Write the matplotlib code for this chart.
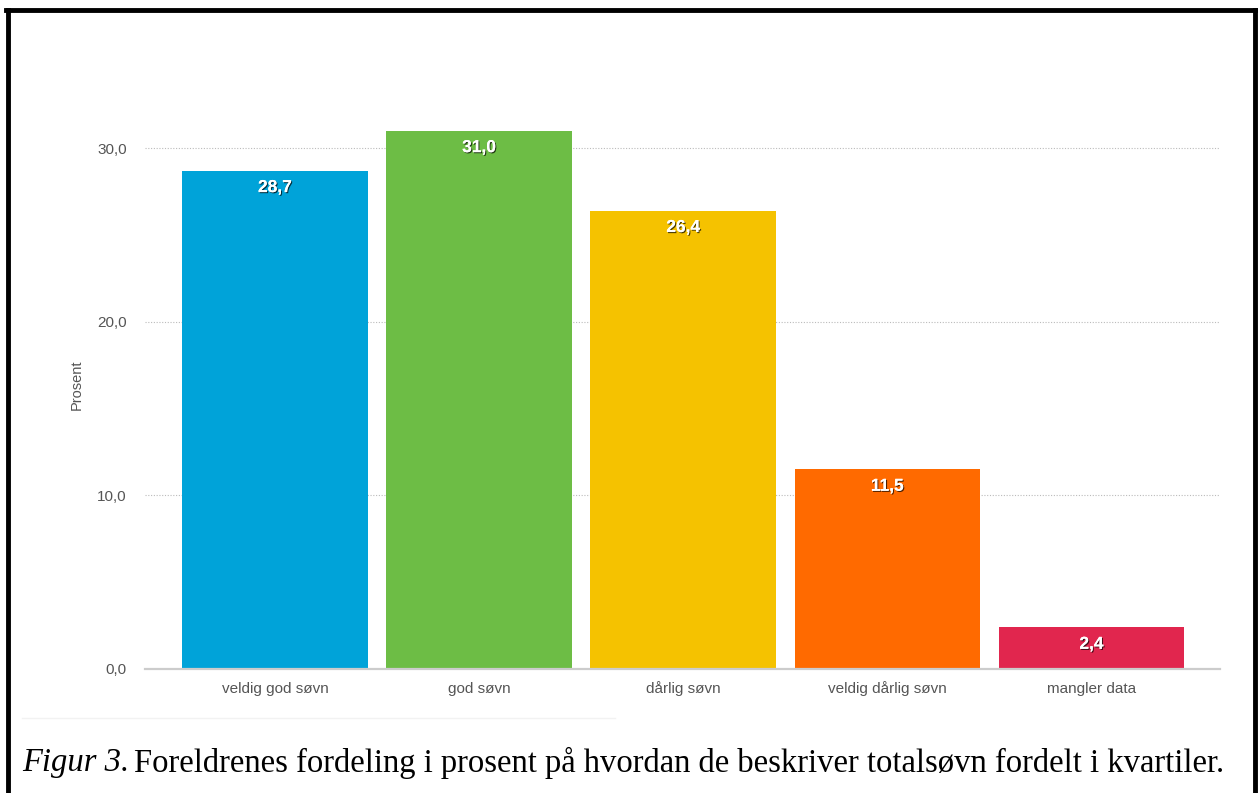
import numpy as np
import matplotlib
matplotlib.use("Agg")
import matplotlib.pyplot as plt
import matplotlib.patheffects as pe
from matplotlib.lines import Line2D

# Data
categories = ["veldig god søvn", "god søvn", "dårlig søvn", "veldig dårlig søvn", "mangler data"]
values = [28.7, 31.0, 26.4, 11.5, 2.4]
colours = ["#00A3D9", "#6DBD45", "#F5C200", "#FF6A00", "#E1264E"]
yticks = [0, 10, 20, 30]

W, H = 1258, 793
fig = plt.figure(figsize=(W / 100, H / 100), dpi=100)
plt.rcParams['font.family'] = ['Liberation Sans', 'DejaVu Sans']

# axes in pixel coords: x 145..1220, y(0)=669, y(30)=148
left, right = 145, 1220
y0, y30 = 669, 148
ppu = (y0 - y30) / 30.0
top_px = 100
ax = fig.add_axes([left / W, 1 - y0 / H, (right - left) / W, (y0 - top_px) / H])
ax.set_ylim(0, (y0 - top_px) / ppu)

x = np.arange(len(categories))
step = 204.2
ax.set_xlim(-(275 - left) / step, 4 + (right - 1091.5) / step)
bars = ax.bar(x, values, width=0.91, color=colours, zorder=3)

shadow = [pe.withSimplePatchShadow(offset=(0.8, -0.8), shadow_rgbFace='black', alpha=0.7),
          pe.Normal()]
for xi, v in zip(x, values):
    ax.annotate(f"{v:.1f}".replace(".", ","), (xi, v), xytext=(0, -17),
                textcoords="offset pixels", ha="center", va="center",
                color="white", fontsize=12.5, fontweight="bold",
                path_effects=shadow, zorder=4)

ax.set_yticks(yticks)
ax.set_yticklabels([f"{t:.1f}".replace(".", ",") for t in yticks])
ax.set_xticks(x)
ax.set_xticklabels(categories)
ax.tick_params(axis='both', length=0, colors="#555555", labelsize=11)
ax.tick_params(axis='y', pad=13)
ax.tick_params(axis='x', pad=9)
ax.yaxis.grid(True, linestyle=(0, (1, 1.5)), color="#bbbbbb", linewidth=0.8, zorder=0)
for s in ["top", "right", "left"]:
    ax.spines[s].set_visible(False)
ax.spines["bottom"].set_color("#cccccc")
ax.spines["bottom"].set_linewidth(1.6)
ax.spines["bottom"].set_zorder(5)
ax.set_ylabel("Prosent", color="#555555", fontsize=10.5, labelpad=10)

# frame around figure (no bottom edge)
fig.add_artist(Line2D([8 / W, 8 / W], [0, 1 - 10 / H], color="black", lw=3.5))
fig.add_artist(Line2D([6 / W, 1256 / W], [1 - 10 / H, 1 - 10 / H], color="black", lw=3.5))
fig.add_artist(Line2D([1255 / W, 1255 / W], [0, 1 - 10 / H], color="black", lw=3.5))
# faint separator
fig.add_artist(Line2D([22 / W, 615 / W], [1 - 718 / H, 1 - 718 / H], color="#f2f2f2", lw=1))

# caption
cy = 1 - 763 / H
t1 = fig.text(22 / W, cy, "Figur 3.", family="Liberation Serif", style="italic",
              fontsize=23.5, va="center", ha="left")
fig.canvas.draw()
bb = t1.get_window_extent()
fig.text(bb.x1 / W + 0.004, cy, "Foreldrenes fordeling i prosent på hvordan de beskriver totalsøvn fordelt i kvartiler.",
         family="Liberation Serif", fontsize=23.5, va="center", ha="left")

plt.savefig("out.png", dpi=100)
